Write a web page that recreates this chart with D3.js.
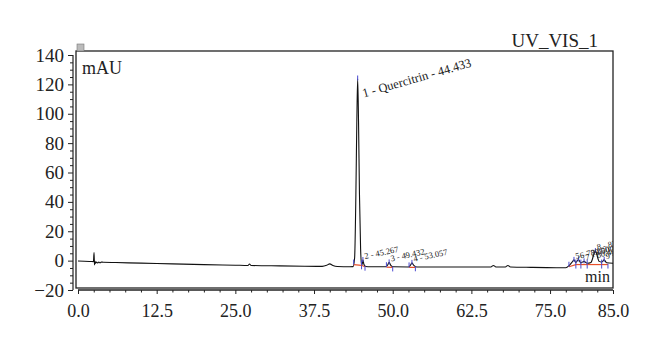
<!DOCTYPE html>
<html><head><meta charset="utf-8">
<script src="https://cdn.jsdelivr.net/npm/d3@7"></script>
<style>body{margin:0;background:#fff}svg{display:block}</style>
</head><body>
<script>
const times  = [0,1.0,2.0,2.45,2.55,2.62,2.7,2.8,2.95,3.1,3.3,3.5,3.7,4.0,6,10,15,20,25,27.0,27.25,27.5,32,36,38.8,39.5,40.0,40.5,41.2,43.2,43.7,43.95,44.15,44.3,44.433,44.57,44.72,44.9,45.05,45.15,45.27,45.42,45.7,46.5,48.9,49.2,49.43,49.7,50.1,52.5,52.8,53.06,53.35,53.8,60,65.6,66.0,66.4,67.9,68.3,68.7,72,76,77.5,78.0,78.5,78.8,79.1,79.5,79.9,80.4,80.9,81.5,82.2,82.8,83.2,83.6,84.0,85.0];
const signal = [-0.3,-0.4,-0.6,-0.7,5.5,-3.0,-0.5,-1.8,-0.9,-1.6,-1.0,-1.5,-0.9,-1.1,-1.3,-1.7,-2.2,-2.7,-3.1,-3.3,-2.3,-3.3,-3.6,-3.8,-3.9,-3.2,-2.2,-3.3,-4.0,-4.2,-4.1,2,45,95,124,95,45,8,-2.5,-2.8,0.5,-2.5,-4.0,-4.2,-4.2,-3.0,-1.2,-3.2,-4.2,-4.3,-3.2,-1.5,-3.3,-4.3,-4.3,-4.3,-3.3,-4.3,-4.3,-3.3,-4.3,-4.6,-4.8,-4.8,-3.5,-1.0,0.5,-1.2,0.8,-1.5,-0.5,-1.8,-1.2,6.5,-0.5,-1.0,0.5,-1.5,-1.8];

const peakLabels = ["1 - Quercitrin - 44.433","2 - 45.267","3 - 49.432","4 - 53.057","5 - 78.800","6 - 79.500","7 - 80.400","8 - 82.200","9 - 83.600"];
const peakApex   = [44.433,45.267,49.432,53.057,78.8,79.5,80.4,82.2,83.6];
const peakStart  = [43.8,45.05,49.0,52.6,78.0,79.1,79.9,80.9,83.2];
const peakEnd    = [45.05,45.6,50.0,53.6,79.1,79.9,80.9,83.2,84.2];

const xTicks = [0,12.5,25,37.5,50,62.5,75,85];
const yTicks = [-20,0,20,40,60,80,100,120,140];

const W=660,H=350;
const svg=d3.select("body").append("svg").attr("width",W).attr("height",H);
const x=d3.scaleLinear().domain([0,85]).range([78,613]);
const y=d3.scaleLinear().domain([-20,140]).range([290,55]);
const font="'Liberation Serif','Times New Roman',serif";

svg.append("defs").append("clipPath").attr("id","fr").append("rect")
  .attr("x",76).attr("y",51).attr("width",613-76).attr("height",288-51);

// frame
svg.append("rect").attr("x",76).attr("y",51).attr("width",613-76).attr("height",288-51)
  .attr("fill","none").attr("stroke","#222").attr("stroke-width",1.3);
svg.append("rect").attr("x",77).attr("y",44).attr("width",7).attr("height",7)
  .attr("fill","#bbb").attr("stroke","#777").attr("stroke-width",0.6);

// y axis
const yAxis=d3.axisLeft(y).tickValues(yTicks).tickSize(5).tickPadding(4)
  .tickFormat(d=>d<0?"\u2212"+Math.abs(d):d);
const gy=svg.append("g").attr("transform","translate(73,0)").call(yAxis);
gy.selectAll("text").attr("font-family",font).attr("font-size",19).attr("fill","#222");
gy.selectAll("line,path").attr("stroke","#222");
gy.select(".domain").attr("d","M0,"+y(-20)+"V"+y(140)).attr("stroke-width",1.2);
const gym=svg.append("g").attr("transform","translate(73,0)")
  .call(d3.axisLeft(y).tickValues(d3.range(-20,141,5).filter(v=>v%20!==0)).tickSize(3).tickFormat(""));
gym.select(".domain").remove(); gym.selectAll("line").attr("stroke","#222");

// x axis
const xAxis=d3.axisBottom(x).tickValues(xTicks).tickSize(4).tickPadding(10).tickFormat(d3.format(".1f"));
const gx=svg.append("g").attr("transform","translate(0,290)").call(xAxis);
gx.selectAll("text").attr("font-family",font).attr("font-size",18).attr("fill","#222");
gx.selectAll("line,path").attr("stroke","#222");
gx.select(".domain").attr("d","M"+x(0)+",0H"+x(85)).attr("stroke-width",1.4);
const gxm=svg.append("g").attr("transform","translate(0,290)")
  .call(d3.axisBottom(x).tickValues(d3.range(0,85.01,2.5).filter(v=>!xTicks.includes(v))).tickSize(2.5).tickFormat(""));
gxm.select(".domain").remove(); gxm.selectAll("line").attr("stroke","#222");

const plot=svg.append("g").attr("clip-path","url(#fr)");

// trace
const pts=times.map((t,i)=>[t,signal[i]]);
const line=d3.line().x(d=>x(d[0])).y(d=>y(d[1])).curve(d3.curveMonotoneX);
plot.append("path").datum(pts).attr("d",line).attr("fill","none").attr("stroke","#111").attr("stroke-width",1.1);

const sig=t=>{
  const i=d3.bisectLeft(times,t); if(i<=0)return signal[0]; if(i>=times.length)return signal[signal.length-1];
  const t0=times[i-1],t1=times[i]; return signal[i-1]+(signal[i]-signal[i-1])*(t-t0)/(t1-t0);};

// baselines & markers
peakStart.forEach((s,i)=>{
  const e=peakEnd[i], bs=Math.min(sig(s),-2), be=Math.min(sig(e),-2);
  plot.append("line").attr("x1",x(s)).attr("x2",x(e)).attr("y1",y(bs)+1).attr("y2",y(be)+1)
    .attr("stroke","#e8502a").attr("stroke-width",1.2);
  plot.append("line").attr("x1",x(s)).attr("x2",x(s)).attr("y1",y(bs)-4).attr("y2",y(bs)+1).attr("stroke","#4a4ad0").attr("stroke-width",1);
  plot.append("line").attr("x1",x(e)).attr("x2",x(e)).attr("y1",y(be)).attr("y2",y(be)+5).attr("stroke","#4a4ad0").attr("stroke-width",1);
  const a=peakApex[i];
  plot.append("line").attr("x1",x(a)).attr("x2",x(a)).attr("y1",y(sig(a))-3).attr("y2",y(sig(a))+2).attr("stroke","#4a4ad0").attr("stroke-width",1);
});

// labels
peakLabels.forEach((l,i)=>{
  const a=peakApex[i];
  const big=i===0;
  plot.append("text").attr("font-family",font).attr("font-size",big?12.5:8.5).attr("fill","#222")
    .attr("transform",`translate(${x(a)+(big?6:2)},${y(sig(a))+(big?19:-1)}) rotate(${big?-16:-12})`)
    .text(l);
});

svg.append("text").attr("x",598).attr("y",47).attr("text-anchor","end").attr("font-family",font).attr("font-size",19).attr("fill","#222").text("UV_VIS_1");
svg.append("text").attr("x",82).attr("y",74).attr("font-family",font).attr("font-size",18).attr("fill","#222").text("mAU");
svg.append("text").attr("x",610).attr("y",282).attr("text-anchor","end").attr("font-family",font).attr("font-size",16).attr("fill","#222").text("min");
</script>
</body></html>
